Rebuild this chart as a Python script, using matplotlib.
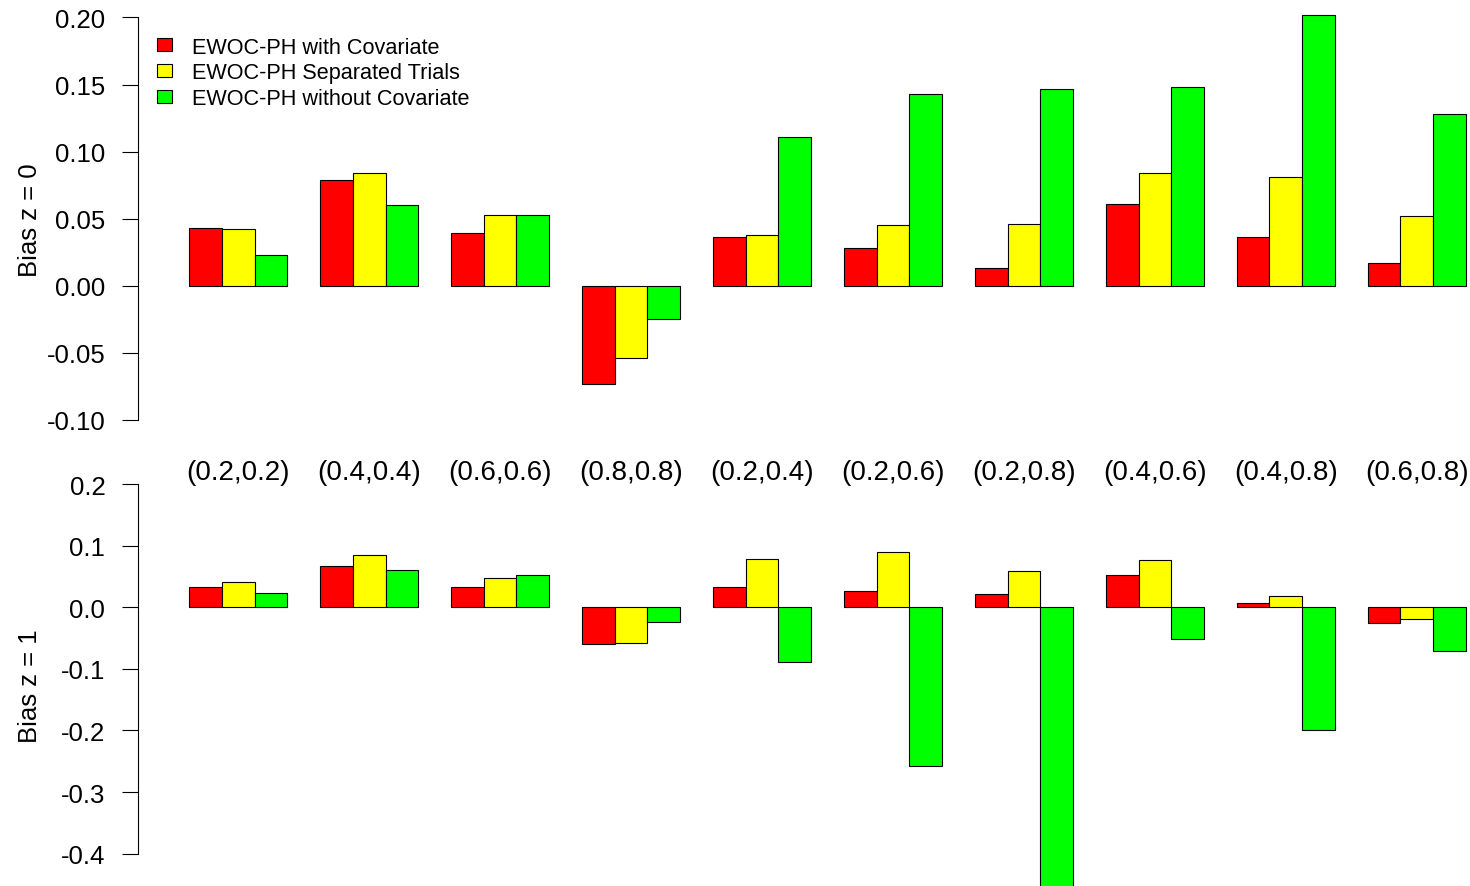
import numpy as np
import matplotlib
matplotlib.use("Agg")
import matplotlib.pyplot as plt
from matplotlib.patches import Patch

plt.rcParams["font.family"] = ["Liberation Sans", "DejaVu Sans"]
plt.rcParams["axes.unicode_minus"] = False

settings = ["(0.2,0.2)", "(0.4,0.4)", "(0.6,0.6)", "(0.8,0.8)", "(0.2,0.4)",
            "(0.2,0.6)", "(0.2,0.8)", "(0.4,0.6)", "(0.4,0.8)", "(0.6,0.8)"]
series_names = ["EWOC-PH with Covariate", "EWOC-PH Separated Trials",
                "EWOC-PH without Covariate"]
colors = ["#FF0000", "#FFFF00", "#00FF00"]

# bias for z = 0
z0_with = [0.043, 0.079, 0.039, -0.073, 0.036, 0.028, 0.013, 0.061, 0.036, 0.017]
z0_separated = [0.042, 0.084, 0.053, -0.054, 0.038, 0.045, 0.046, 0.084, 0.081, 0.052]
z0_without = [0.023, 0.060, 0.053, -0.025, 0.111, 0.143, 0.147, 0.148, 0.202, 0.128]

# bias for z = 1
z1_with = [0.033, 0.067, 0.033, -0.060, 0.033, 0.026, 0.022, 0.052, 0.007, -0.026]
z1_separated = [0.041, 0.085, 0.048, -0.058, 0.078, 0.089, 0.059, 0.076, 0.019, -0.019]
z1_without = [0.024, 0.061, 0.052, -0.024, -0.089, -0.258, -0.454, -0.052, -0.200, -0.071]

z0_ticks = [-0.10, -0.05, 0.00, 0.05, 0.10, 0.15, 0.20]
z1_ticks = [-0.4, -0.3, -0.2, -0.1, 0.0, 0.1, 0.2]

W, H = 1470, 887
fig = plt.figure(figsize=(W / 100, H / 100), dpi=100)

n_groups = len(settings)
n_series = len(series_names)
# barplot(beside=TRUE) style: unit bars, one-unit gap before each group
left_edges = np.array([[1 + (n_series + 1) * i + j for i in range(n_groups)]
                       for j in range(n_series)], dtype=float)
group_centers = left_edges.mean(axis=0) + 0.5
x_min, x_max = left_edges.min(), left_edges.max() + 1
x_pad = 0.04 * (x_max - x_min)
xlim = (x_min - x_pad, x_max + x_pad)

px_per_unit = 32.74
ax_left = 138 / W
ax_width = (xlim[1] - xlim[0]) * px_per_unit / W

ax_top = fig.add_axes([ax_left, (H - 437.1) / H, ax_width, (437.1 - 2.3) / H])
ax_bot = fig.add_axes([ax_left, (H - 904.0) / H, ax_width, (904.0 - 469.0) / H])
ax_bot.patch.set_visible(False)


def draw_panel(ax, series, ticks, fmt, ylim, label):
    for j, values in enumerate(series):
        ax.bar(left_edges[j], values, width=1.0, align="edge", color=colors[j],
               edgecolor="black", linewidth=0.8, clip_on=False)
    ax.set_xlim(*xlim)
    ax.set_ylim(*ylim)
    ax.set_yticks(ticks, [fmt.format(t) for t in ticks])
    for s in ["top", "right", "bottom"]:
        ax.spines[s].set_visible(False)
    ax.spines["left"].set_bounds(ticks[0], ticks[-1])
    ax.spines["left"].set_linewidth(0.8)
    ax.tick_params(axis="y", direction="out", length=11.5, width=0.8,
                   pad=12, labelsize=18.5)
    ax.set_ylabel(label, fontsize=18.5)
    ax.yaxis.set_label_coords((42 - 138) / (ax_width * W), 0.5)


def padded(lo, hi):
    d = 0.04 * (hi - lo)
    return lo - d, hi + d


draw_panel(ax_top, [z0_with, z0_separated, z0_without], z0_ticks, "{:.2f}",
           padded(-0.10, 0.20), "Bias z = 0")
draw_panel(ax_bot, [z1_with, z1_separated, z1_without], z1_ticks, "{:.1f}",
           padded(min(z1_with + z1_separated + z1_without), 0.2), "Bias z = 1")

ax_top.set_xticks(group_centers, settings)
ax_top.tick_params(axis="x", length=0, pad=16.5, labelsize=20)
ax_bot.set_xticks([])

handles = [Patch(facecolor=c, edgecolor="black", linewidth=0.8) for c in colors]
ax_top.legend(handles, series_names, loc="upper left",
              bbox_to_anchor=(157 / W, 1 - 37.5 / H), bbox_transform=fig.transFigure,
              frameon=False, fontsize=15.6, handlelength=0.69, handleheight=0.55,
              handletextpad=0.92, labelspacing=0.23, borderpad=0, borderaxespad=0)

fig.savefig("out.png", dpi=100)
